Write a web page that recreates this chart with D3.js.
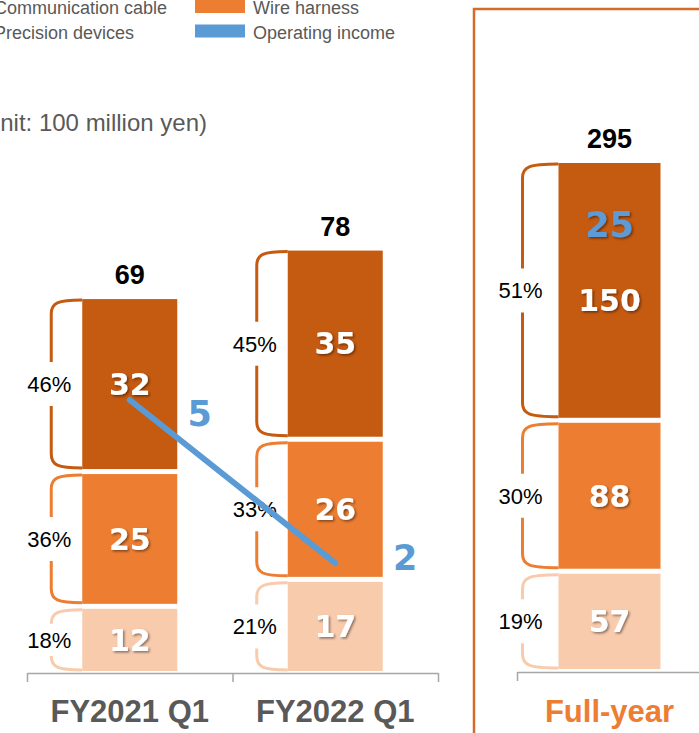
<!DOCTYPE html>
<html>
<head>
<meta charset="utf-8">
<script src="https://cdn.jsdelivr.net/npm/d3@7"></script>
<style>
body{margin:0;background:#fff;}
svg{display:block;}
</style>
</head>
<body>
<svg id="chart"></svg>
<script>
// quarterly data (unit: 100 million yen)
var categories = ["FY2021 Q1", "FY2022 Q1"];
var precisionDevices = [12, 17];
var wireHarness = [25, 26];
var communicationCable = [32, 35];
var totals = [69, 78];
var sharePrecision = ["18%", "21%"];
var shareHarness = ["36%", "33%"];
var shareCable = ["46%", "45%"];
var operatingIncome = [5, 2];

// full-year plan
var fullYearCategory = ["Full-year"];
var fyPrecision = [57];
var fyHarness = [88];
var fyCable = [150];
var fyTotal = [295];
var fySharePrecision = ["19%"];
var fyShareHarness = ["30%"];
var fyShareCable = ["51%"];
var fyOperatingIncome = [25];

var legendNames = ["Communication cable", "Wire harness", "Precision devices", "Operating income"];
var unitText = "(Unit: 100 million yen)";

var keys = ["precision", "harness", "cable"];
var colors = {precision: "#F8CBAD", harness: "#ED7D31", cable: "#C55A11"};
var blue = "#5B9BD5";
var gap = 2.5;

var width = 699, height = 733;
var svg = d3.select("#chart").attr("width", width).attr("height", height);

var defs = svg.append("defs");
defs.append("filter").attr("id", "shadow")
  .attr("x", "-20%").attr("y", "-20%").attr("width", "150%").attr("height", "150%")
  .append("feDropShadow")
  .attr("dx", 1.5).attr("dy", 1.5).attr("stdDeviation", 0.8)
  .attr("flood-color", "#000").attr("flood-opacity", 0.45);

// full-year frame
svg.append("rect")
  .attr("x", 474).attr("y", 9).attr("width", 280).attr("height", 780)
  .attr("fill", "none").attr("stroke", "#D66A28").attr("stroke-width", 2.5);

var drawPanel = function(opt)
{
  var rows = opt.cats.map(function(c, i){
    return {cat: c, precision: opt.precision[i], harness: opt.harness[i], cable: opt.cable[i], total: opt.total[i]};
  });
  var shares = {precision: opt.sharePrecision, harness: opt.shareHarness, cable: opt.shareCable};
  var series = d3.stack().keys(keys)(rows);

  var x = d3.scaleBand().domain(opt.cats).range(opt.xRange);
  var y = d3.scaleLinear().domain([0, opt.yMax]).range([opt.base, opt.top]);
  var cx = function(i){ return x(rows[i].cat) + x.bandwidth() / 2; };

  var segs = [];
  series.forEach(function(s){
    s.forEach(function(d, i){
      var t = y(d[1]) + (s.index == keys.length - 1 ? 0 : gap);
      var b = y(d[0]) - (s.index == 0 ? 0 : gap);
      segs.push({key: s.key, i: i, top: t, bottom: b, value: d.data[s.key], share: shares[s.key][i]});
    });
  });

  var g = svg.append("g");

  // axis
  var ax = d3.scaleLinear().domain([0, opt.cats.length]).range(opt.xRange);
  var axisG = g.append("g")
    .attr("transform", "translate(0," + opt.axisY + ")")
    .call(d3.axisBottom(ax).ticks(opt.cats.length).tickFormat("").tickSize(9).tickSizeOuter(0));
  axisG.select(".domain").attr("stroke", "#A6A6A6").attr("stroke-width", 1.5);
  axisG.selectAll(".tick line").attr("stroke", "#A6A6A6").attr("stroke-width", 1.5);

  // bars
  g.selectAll("rect.seg")
    .data(segs)
    .enter()
    .append("rect")
    .attr("class", "seg")
    .attr("x", function(d){ return cx(d.i) - opt.barWidth / 2; })
    .attr("y", function(d){ return d.top; })
    .attr("width", opt.barWidth)
    .attr("height", function(d){ return d.bottom - d.top; })
    .attr("fill", function(d){ return colors[d.key]; });

  // braces
  g.selectAll("path.brace")
    .data(segs)
    .enter()
    .append("path")
    .attr("class", "brace")
    .attr("fill", "none")
    .attr("stroke", function(d){ return colors[d.key]; })
    .attr("stroke-width", 3)
    .attr("d", function(d){
      var bl = cx(d.i) - opt.barWidth / 2;
      var bx = bl - opt.braceOff;
      var t = d.top + 1, b = d.bottom - 1;
      var mid = (t + b) / 2;
      var hg = Math.min(22, (b - t) / 2 - 14);
      return "M" + bl + "," + t +
        " C" + (bx + 6) + "," + t + " " + bx + "," + (t + 3) + " " + bx + "," + (t + 14) +
        " L" + bx + "," + (mid - hg) +
        " M" + bx + "," + (mid + hg) +
        " L" + bx + "," + (b - 14) +
        " C" + bx + "," + (b - 3) + " " + (bx + 6) + "," + b + " " + bl + "," + b;
    });

  // share labels
  g.selectAll("text.share")
    .data(segs)
    .enter()
    .append("text")
    .attr("class", "share")
    .attr("x", function(d){ return cx(d.i) - opt.barWidth / 2 - opt.braceOff - 2; })
    .attr("y", function(d){ return (d.top + d.bottom) / 2; })
    .attr("dy", "0.36em")
    .attr("text-anchor", "middle")
    .style("font-family", "'Liberation Sans', Arial, sans-serif")
    .style("font-size", "22px")
    .attr("fill", "#000")
    .text(function(d){ return d.share; });

  // values inside bars
  g.selectAll("text.val")
    .data(segs)
    .enter()
    .append("text")
    .attr("class", "val")
    .attr("x", function(d){ return cx(d.i); })
    .attr("y", function(d){
      var m = (d.top + d.bottom) / 2;
      if (opt.opIncome && d.key == "cable") m += 10;
      return m;
    })
    .attr("dy", "0.36em")
    .attr("text-anchor", "middle")
    .style("font-family", "'DejaVu Sans', Verdana, sans-serif")
    .style("font-weight", "bold")
    .style("font-size", "30px")
    .attr("fill", "#fff")
    .attr("filter", "url(#shadow)")
    .text(function(d){ return d.value; });

  // totals
  g.selectAll("text.total")
    .data(rows)
    .enter()
    .append("text")
    .attr("class", "total")
    .attr("x", function(d, i){ return cx(i); })
    .attr("y", function(d){ return y(d.total) - 15; })
    .attr("text-anchor", "middle")
    .style("font-family", "'Liberation Sans', Arial, sans-serif")
    .style("font-weight", "bold")
    .style("font-size", "27px")
    .attr("fill", "#000")
    .text(function(d){ return d.total; });

  // category labels
  g.selectAll("text.cat")
    .data(rows)
    .enter()
    .append("text")
    .attr("class", "cat")
    .attr("x", function(d, i){ return cx(i); })
    .attr("y", 722)
    .attr("text-anchor", "middle")
    .style("font-family", "'Liberation Sans', Arial, sans-serif")
    .style("font-weight", "bold")
    .style("font-size", "31px")
    .attr("fill", opt.catColor)
    .text(function(d){ return d.cat; });

  // full-year operating income
  if (opt.opIncome) {
    var topSeg = segs.filter(function(d){ return d.key == "cable"; })[0];
    g.append("text")
      .attr("x", cx(0))
      .attr("y", (topSeg.top + topSeg.bottom) / 2 - 66)
      .attr("dy", "0.36em")
      .attr("text-anchor", "middle")
      .style("font-family", "'DejaVu Sans', Verdana, sans-serif")
      .style("font-weight", "bold")
      .style("font-size", "35px")
      .attr("fill", blue)
      .attr("filter", "url(#shadow)")
      .text(opt.opIncome[0]);
  }

  return {x: x, cx: cx};
};

var left = drawPanel({
  cats: categories, precision: precisionDevices, harness: wireHarness, cable: communicationCable, total: totals,
  sharePrecision: sharePrecision, shareHarness: shareHarness, shareCable: shareCable,
  xRange: [27, 438], yMax: 78, base: 671, top: 671 - 78 * 5.39,
  barWidth: 95, braceOff: 31, axisY: 673, catColor: "#595959"
});

drawPanel({
  cats: fullYearCategory, precision: fyPrecision, harness: fyHarness, cable: fyCable, total: fyTotal,
  sharePrecision: fySharePrecision, shareHarness: fyShareHarness, shareCable: fyShareCable,
  xRange: [517, 702], yMax: 295, base: 669, top: 163,
  barWidth: 102, braceOff: 36, axisY: 672, catColor: "#ED7D31", opIncome: fyOperatingIncome
});

// operating income line
var yOp = d3.scaleLinear().domain([0, 5]).range([672, 400]);
var line = d3.line()
  .x(function(d, i){ return left.cx(i); })
  .y(function(d){ return yOp(d); });

svg.append("path")
  .datum(operatingIncome)
  .attr("d", line)
  .attr("fill", "none")
  .attr("stroke", blue)
  .attr("stroke-width", 6)
  .attr("stroke-linecap", "round");

// first label sits below the line end, second one above
var opLabelDy = [13, -6];
svg.selectAll("text.op")
  .data(operatingIncome)
  .enter()
  .append("text")
  .attr("class", "op")
  .attr("x", function(d, i){ return left.cx(i) + 70; })
  .attr("y", function(d, i){ return yOp(d) + opLabelDy[i]; })
  .attr("dy", "0.36em")
  .attr("text-anchor", "middle")
  .style("font-family", "'DejaVu Sans', Verdana, sans-serif")
  .style("font-weight", "bold")
  .style("font-size", "35px")
  .attr("fill", blue)
  .text(function(d){ return d; });

// legend (left column is partly cut off by the frame)
var legendColors = [colors.cable, colors.harness, colors.precision, blue];
var legendX = [-62, 195];
var legendTextX = [-6, 253];
var legendY = [8, 32.5];
var lg = svg.selectAll("g.legend")
  .data(legendNames)
  .enter()
  .append("g")
  .attr("class", "legend")
  .attr("transform", function(d, i){ return "translate(0," + legendY[Math.floor(i / 2)] + ")"; });
lg.append("rect")
  .attr("x", function(d, i){ return legendX[i % 2]; })
  .attr("y", -8)
  .attr("width", 50)
  .attr("height", 13)
  .attr("fill", function(d, i){ return legendColors[i]; });
lg.append("text")
  .attr("x", function(d, i){ return legendTextX[i % 2]; })
  .attr("y", 6)
  .style("font-family", "'Liberation Sans', Arial, sans-serif")
  .style("font-size", "18px")
  .attr("fill", "#595959")
  .text(function(d){ return d; });

svg.append("text")
  .attr("x", 207)
  .attr("y", 131)
  .attr("text-anchor", "end")
  .style("font-family", "'Liberation Sans', Arial, sans-serif")
  .style("font-size", "24px")
  .attr("fill", "#595959")
  .text(unitText);
</script>
</body>
</html>
